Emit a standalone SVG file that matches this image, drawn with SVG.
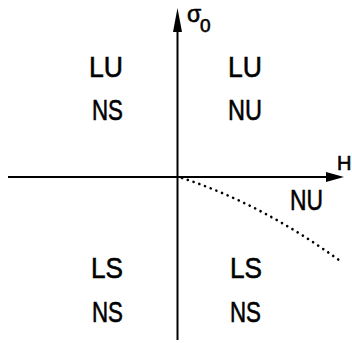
<svg xmlns="http://www.w3.org/2000/svg" width="352" height="343" viewBox="0 0 352 343">
<style>
.lbl{font-family:"Liberation Sans",Arial,sans-serif;font-size:30px;fill:#000;stroke:#000;stroke-width:0.6}
.ax{stroke:#000;stroke-width:2;fill:none}
.sym{font-family:"Liberation Sans",Arial,sans-serif;fill:#000;stroke:#000;stroke-width:0.6}
</style>
<rect width="352" height="343" fill="#fff"/>
<g id="connectors">
<line class="ax" x1="177.5" y1="340" x2="177.5" y2="26"/>
<polygon points="177.5,8 173,32 182,32" fill="#000"/>
<line class="ax" x1="8" y1="177" x2="330" y2="177"/>
<polygon points="344,177 326,172 326,182" fill="#000"/>
<path d="M182,178 Q262.5,204 343,263" fill="none" stroke="#000" stroke-width="2.6" stroke-dasharray="0.1 6" stroke-linecap="round"/>
</g>
<g id="axis-labels">
<text class="sym" x="187" y="22" font-size="23">σ</text>
<text class="sym" x="200" y="32" font-size="19">0</text>
<text class="sym" x="337" y="170" font-size="20">H</text>
</g>
<g id="q2"><text class="lbl" x="89" y="77" textLength="34" lengthAdjust="spacingAndGlyphs">LU</text><text class="lbl" x="92" y="120" textLength="31" lengthAdjust="spacingAndGlyphs">NS</text></g>
<g id="q1"><text class="lbl" x="228" y="77" textLength="34" lengthAdjust="spacingAndGlyphs">LU</text><text class="lbl" x="228" y="120" textLength="34" lengthAdjust="spacingAndGlyphs">NU</text></g>
<g id="q4a"><text class="lbl" x="290" y="210" textLength="33" lengthAdjust="spacingAndGlyphs">NU</text></g>
<g id="q3"><text class="lbl" x="91" y="278" textLength="32" lengthAdjust="spacingAndGlyphs">LS</text><text class="lbl" x="92" y="322" textLength="31" lengthAdjust="spacingAndGlyphs">NS</text></g>
<g id="q4"><text class="lbl" x="230" y="278" textLength="32" lengthAdjust="spacingAndGlyphs">LS</text><text class="lbl" x="230" y="322" textLength="31" lengthAdjust="spacingAndGlyphs">NS</text></g>
</svg>
